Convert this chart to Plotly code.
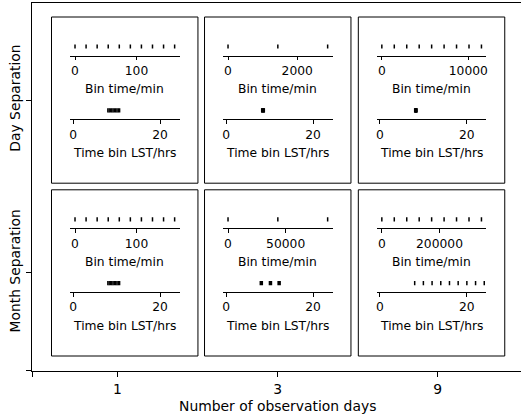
import plotly.graph_objects as go

# ---------------- data ----------------
obs_days = ["1", "3", "9"]
separations = ["Day Separation", "Month Separation"]

bin_day_1 = [0, 18, 36, 54, 72, 90, 108, 126, 144, 162]
bin_day_3 = [0, 1440, 2880]
bin_day_9 = [0, 1440, 2880, 4320, 5760, 7200, 8640, 10080, 11520]
bin_month_1 = [0, 18, 36, 54, 72, 90, 108, 126, 144, 162]
bin_month_3 = [0, 43200, 86400]
bin_month_9 = [0, 43200, 86400, 129600, 172800, 216000, 259200, 302400, 345600]

lst_day_1 = [8.0, 8.3, 8.6, 8.9, 9.2, 9.5, 9.8, 10.1, 10.4, 10.7]
lst_day_3 = [8.42, 8.49, 8.56]
lst_day_9 = [8.0, 8.07, 8.13, 8.2, 8.27, 8.33, 8.4, 8.47, 8.53]
lst_month_1 = [8.0, 8.3, 8.6, 8.9, 9.2, 9.5, 9.8, 10.1, 10.4, 10.7]
lst_month_3 = [8.1, 10.2, 12.2]
lst_month_9 = [8.0, 10.0, 12.0, 14.0, 16.0, 18.0, 20.0, 22.0, 24.0]

bin_ticks = [[100, 2000, 10000], [100, 50000, 200000]]
bin_series = [[bin_day_1, bin_day_3, bin_day_9], [bin_month_1, bin_month_3, bin_month_9]]
lst_series = [[lst_day_1, lst_day_3, lst_day_9], [lst_month_1, lst_month_3, lst_month_9]]

# ---------------- styling / geometry (pixels) ----------------
lst_marker_w = [[1.5, 3.5, 1.5], [1.5, 3.5, 1.5]]
W, H = 522, 417
FONT = "DejaVu Sans"
def fx(x): return x / W
def fy(y): return 1 - y / H

outer_left, outer_right = 31, 522
outer_top, outer_bottom = 3, 371.3
col_x0 = [50.7, 204.3, 358.7]
row_y0 = [17, 189.8]
panel_w, panel_h = 147, 166.2

fig = go.Figure()
layout = dict(
    width=W, height=H, margin=dict(l=0, r=0, t=0, b=0),
    paper_bgcolor="white", plot_bgcolor="rgba(0,0,0,0)",
    showlegend=False, font=dict(family=FONT, color="black"),
)

# outer axes
layout["xaxis"] = dict(
    domain=[fx(outer_left), 1], range=[-0.535, 2.52],
    tickvals=[-0.53, 0, 1, 2], ticktext=[""] + obs_days,
    showline=True, linecolor="black", linewidth=1, mirror=True,
    ticks="outside", ticklen=5, tickwidth=1, tickcolor="black",
    showgrid=False, zeroline=False, tickfont=dict(size=13.9, family=FONT),
)
layout["yaxis"] = dict(
    domain=[fy(outer_bottom), fy(outer_top)], range=[-0.569, 1.562],
    tickvals=[-0.566, 0, 1], ticktext=["", separations[1], separations[0]],
    showline=True, linecolor="black", linewidth=1,
    ticks="outside", ticklen=5, tickwidth=1, tickcolor="black",
    showgrid=False, zeroline=False, tickangle=-90,
    tickfont=dict(size=13.9, family=FONT),
)
fig.add_trace(go.Scatter(x=[], y=[], xaxis="x", yaxis="y"))

shapes = []
annotations = [dict(text="Number of observation days", x=fx(277.7), y=fy(405.7),
                    xref="paper", yref="paper", showarrow=False,
                    font=dict(size=13.9, family=FONT), xanchor="center", yanchor="middle")]

ax_i = 2
for r in range(2):
    for c in range(3):
        x0, y0 = col_x0[c], row_y0[r]
        shapes.append(dict(type="rect", xref="paper", yref="paper",
                           x0=fx(x0), x1=fx(x0 + panel_w), y0=fy(y0), y1=fy(y0 + panel_h),
                           line=dict(color="black", width=1), fillcolor="rgba(0,0,0,0)"))
        dom = [fx(x0 + 18.6), fx(x0 + 128.6)]
        for k, (vals, line_y, title) in enumerate([
                (bin_series[r][c], y0 + 38.5, "Bin time/min"),
                (lst_series[r][c], y0 + 102.4, "Time bin LST/hrs")]):
            if k == 0:
                lo, hi = min(vals), max(vals)
                pad = 0.05 * (hi - lo)
                xr = [lo - pad, hi + pad]
                dt = bin_ticks[r][c]
                mw = 1.5
            else:
                xr = [-0.7, 24.5]
                dt = 20
                mw = lst_marker_w[r][c]
            tv = [t * dt for t in range(0, int(xr[1] // dt) + 1)]
            xn, yn = f"xaxis{ax_i}", f"yaxis{ax_i}"
            layout[xn] = dict(domain=dom, range=xr, anchor=f"y{ax_i}",
                              tickvals=tv, ticktext=[str(v) for v in tv],
                              showline=True, linecolor="black", linewidth=1,
                              ticks="outside", ticklen=3.5, tickwidth=1, tickcolor="black",
                              showgrid=False, zeroline=False,
                              tickfont=dict(size=12.3, family=FONT))
            layout[yn] = dict(domain=[fy(line_y), fy(line_y - 18)], range=[0, 1],
                              anchor=f"x{ax_i}", visible=False)
            fig.add_trace(go.Scatter(
                x=vals, y=[0.5] * len(vals), mode="markers",
                xaxis=f"x{ax_i}", yaxis=f"y{ax_i}",
                marker=dict(symbol="line-ns", size=3, color="black",
                            line=dict(color="black", width=mw)),
                hoverinfo="skip"))
            annotations.append(dict(text=title, x=fx(x0 + 73.6), y=fy(line_y + 33.3),
                                    xref="paper", yref="paper", showarrow=False,
                                    font=dict(size=12.3, family=FONT),
                                    xanchor="center", yanchor="middle"))
            ax_i += 1

layout["shapes"] = shapes
layout["annotations"] = annotations
fig.update_layout(**layout)
fig.write_html("out.html")
